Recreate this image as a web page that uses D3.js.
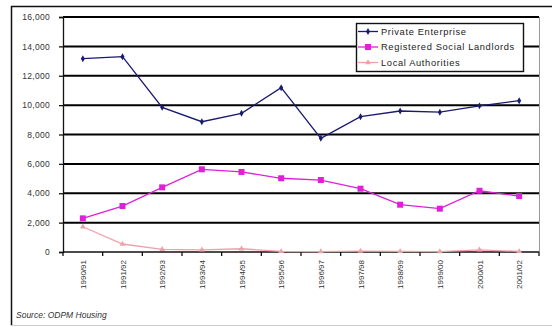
<!DOCTYPE html>
<html>
<head>
  <meta charset="utf-8">
  <title>Housing completions</title>
  <style>
    body { margin: 0; background: #fff; }
    text { font-family: "Liberation Sans", Arial, sans-serif; fill: #222; }
  </style>
</head>
<body>
<script src="https://cdn.jsdelivr.net/npm/d3@7"></script>
<script>

var years = ['1990/91','1991/92','1992/93','1993/94','1994/95','1995/96',
             '1996/97','1997/98','1998/99','1999/00','2000/01','2001/02'];

var privateEnterprise = [13160, 13300, 9850, 8870, 9440, 11190, 7740, 9210, 9600, 9520, 9950, 10300];
var socialLandlords   = [2290, 3130, 4400, 5630, 5450, 5020, 4900, 4310, 3220, 2950, 4170, 3810];
var localAuthorities  = [1720, 545, 180, 150, 220, 40, 30, 60, 40, 30, 150, 40];

var seriesNames = ['Private Enterprise', 'Registered Social Landlords', 'Local Authorities'];
var yTicks = [0, 2000, 4000, 6000, 8000, 10000, 12000, 14000, 16000];

var W = 552, H = 327,
    plot = {left: 63, right: 539, top: 17, bottom: 252};

var series = [
  {name: seriesNames[0], values: privateEnterprise, color: '#1a1a6e', marker: 'diamond'},
  {name: seriesNames[1], values: socialLandlords,   color: '#e020d8', marker: 'square'},
  {name: seriesNames[2], values: localAuthorities,  color: '#f0a0a8', marker: 'triangle'}
];

var svg = d3.select('body').append('svg')
    .attr('width', W).attr('height', H);

// outer frame
svg.append('path')
   .attr('d', 'M11.5,' + (H - 1.5) + 'V6.5H' + W)
   .attr('fill', 'none').attr('stroke', '#111').attr('stroke-width', 1.5);
svg.append('line')
   .attr('x1', 11).attr('x2', W).attr('y1', H - 1.5).attr('y2', H - 1.5)
   .attr('stroke', '#ccc');

var x = d3.scaleBand().domain(years).range([plot.left, plot.right]);
var y = d3.scaleLinear().domain([0, 16000]).range([plot.bottom, plot.top]);

// plot area right edge
svg.append('line')
   .attr('x1', plot.right + 0.5).attr('x2', plot.right + 0.5)
   .attr('y1', plot.top).attr('y2', plot.bottom)
   .attr('stroke', '#999');

// horizontal gridlines
svg.append('g')
   .attr('class', 'gridlines')
   .selectAll('line')
   .data(yTicks.slice(1))
   .enter().append('line')
   .attr('x1', plot.left).attr('x2', plot.right)
   .attr('y1', function(d){ return y(d); })
   .attr('y2', function(d){ return y(d); })
   .style('stroke', '#000')
   .style('stroke-width', '2px');

// y axis
var yAxis = svg.append('g')
   .attr('transform', 'translate(' + plot.left + ',0)')
   .call(d3.axisLeft(y).tickValues(yTicks).tickSize(4).tickPadding(9)
           .tickFormat(d3.format(',')));
yAxis.selectAll('text').attr('font-size', 8.5).attr('letter-spacing', 0.3).style('fill', '#333');
yAxis.selectAll('line, path').attr('stroke', '#111').attr('stroke-width', 1.3);

// x axis: ticks at category boundaries
var xAxis = svg.append('g')
   .attr('transform', 'translate(0,' + plot.bottom + ')');
xAxis.append('line')
   .attr('x1', plot.left).attr('x2', plot.right)
   .attr('stroke', '#111').attr('stroke-width', 1.4);
xAxis.selectAll('line.tick')
   .data(years.concat(['end']))
   .enter().append('line')
   .attr('class', 'tick')
   .attr('x1', function(d, i){ return plot.left + i * x.step(); })
   .attr('x2', function(d, i){ return plot.left + i * x.step(); })
   .attr('y1', 0).attr('y2', 4)
   .attr('stroke', '#111').attr('stroke-width', 1.3);
xAxis.selectAll('text')
   .data(years)
   .enter().append('text')
   .attr('transform', function(d){
     return 'translate(' + (x(d) + x.bandwidth() / 2 + 3) + ',8) rotate(-90)';
   })
   .attr('text-anchor', 'end')
   .attr('font-size', 8)
   .style('fill', '#333')
   .text(function(d){ return d; });

var line = d3.line()
   .x(function(d, i){ return x(years[i]) + x.bandwidth() / 2; })
   .y(function(d){ return y(d); });

function drawMarker(g, type, color, cx, cy) {
  if (type === 'diamond') {
    g.append('path').attr('d', d3.symbol(d3.symbolDiamond, 14)())
     .attr('transform', 'translate(' + cx + ',' + cy + ')').attr('fill', color);
  } else if (type === 'square') {
    g.append('rect').attr('x', cx - 3).attr('y', cy - 3)
     .attr('width', 6).attr('height', 6).attr('fill', color);
  } else {
    g.append('path').attr('d', d3.symbol(d3.symbolTriangle, 14)())
     .attr('transform', 'translate(' + cx + ',' + cy + ')').attr('fill', color);
  }
}

series.slice().reverse().forEach(function(s){
  var g = svg.append('g');
  g.append('path')
   .datum(s.values)
   .attr('d', line)
   .attr('fill', 'none')
   .attr('stroke', s.color)
   .attr('stroke-width', 1.3);
  s.values.forEach(function(v, i){
    drawMarker(g, s.marker, s.color, x(years[i]) + x.bandwidth() / 2, y(v));
  });
});

// legend
var lg = svg.append('g').attr('transform', 'translate(356,23)');
lg.append('rect')
  .attr('x', 0.5).attr('y', 0.5).attr('width', 167).attr('height', 48)
  .attr('fill', '#fff').attr('stroke', '#111').attr('stroke-width', 1.4);
series.forEach(function(s, i){
  var cy = 8.5 + i * 15.5;
  lg.append('line')
    .attr('x1', 2).attr('x2', 22).attr('y1', cy).attr('y2', cy)
    .attr('stroke', s.color).attr('stroke-width', 1.3);
  drawMarker(lg, s.marker, s.color, 12, cy);
  lg.append('text')
    .attr('x', 25).attr('y', cy + 3.3)
    .attr('font-size', 9.3)
    .attr('letter-spacing', 0.65)
    .text(s.name);
});

// source note
svg.append('text')
   .attr('x', 16).attr('y', 318)
   .attr('font-size', 8.5)
   .attr('font-style', 'italic')
   .style('fill', '#333')
   .text('Source: ODPM Housing');

</script>
</body>
</html>
